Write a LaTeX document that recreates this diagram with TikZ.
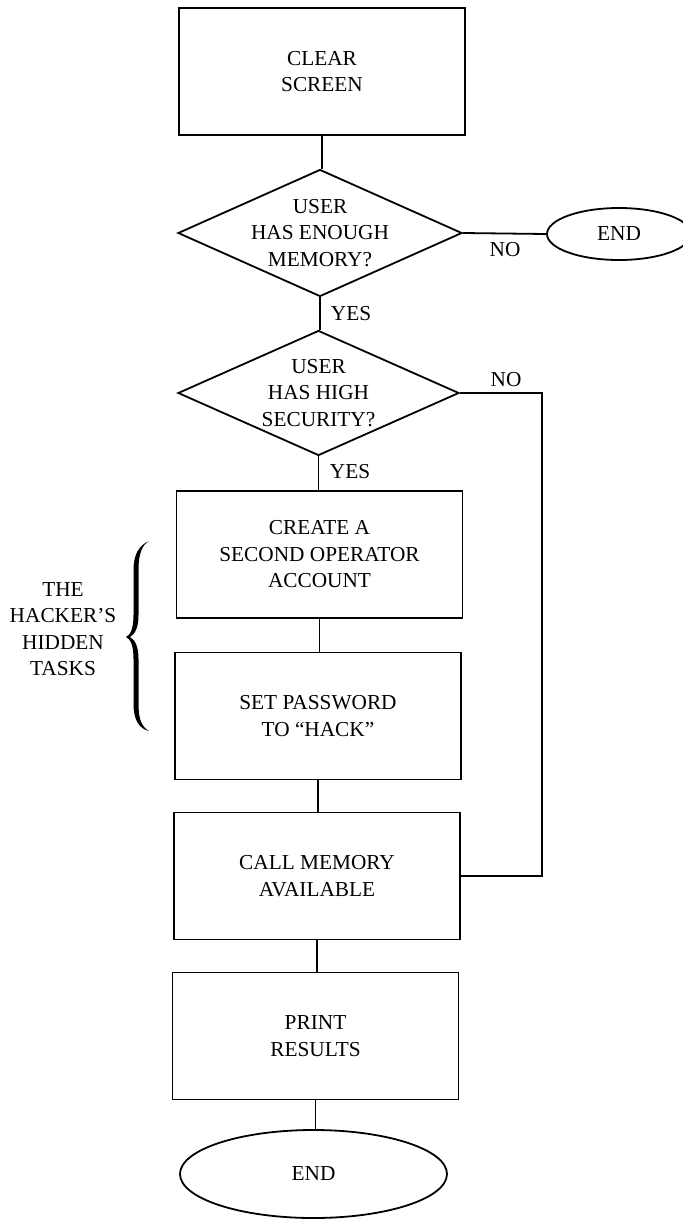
\documentclass[tikz,border=0pt]{standalone}
\usepackage{fontspec}
\setmainfont{Liberation Serif}
\usetikzlibrary{shapes.geometric}
\begin{document}
\begin{tikzpicture}[x=1pt,y=-1pt,line width=1.8pt,
  txt/.style={font=\fontsize{21.3}{26.5}\selectfont,align=center,inner sep=0pt},
  procbox/.style={draw,rectangle,minimum width=286pt,minimum height=127pt,inner sep=0pt,
    font=\fontsize{21.3}{26.5}\selectfont,align=center},
  decision/.style={draw,diamond,inner sep=0pt},
  terminal/.style={draw,ellipse,inner sep=0pt,font=\fontsize{21.3}{26.5}\selectfont},
  lbl/.style={font=\fontsize{21.3}{24}\selectfont,inner sep=0pt}]
\useasboundingbox (0,0) rectangle (683,1219);

% process boxes
\node[procbox] (b1) at (322,71.5) {CLEAR\\SCREEN};
\node[procbox] (b3) at (319.5,554.5) {CREATE A\\SECOND OPERATOR\\ACCOUNT};
\node[procbox] (b4) at (318,716) {SET PASSWORD\\TO ``HACK''};
\node[procbox] (b5) at (317,876) {CALL MEMORY\\AVAILABLE};
\node[procbox] (b6) at (315.5,1036) {PRINT\\RESULTS};

% decisions
\node[decision,minimum width=284pt,minimum height=127pt] (d1) at (320,233) {};
\node[txt] (d1t) at (d1.center) {USER\\HAS ENOUGH\\MEMORY?};
\node[decision,minimum width=281pt,minimum height=125pt] (d2) at (318.5,393) {};
\node[txt] (d2t) at (d2.center) {USER\\HAS HIGH\\SECURITY?};

% terminals
\node[terminal,minimum width=144pt,minimum height=52pt] (e1) at (619,234) {END};
\node[terminal,minimum width=267pt,minimum height=88pt] (e2) at (313.5,1174) {END};

% labels
\node[lbl] (no1) at (505,250) {NO};
\node[lbl] (yes1) at (351,314) {YES};
\node[lbl] (no2) at (506,380) {NO};
\node[lbl] (yes2) at (350,472) {YES};

% connectors
\draw (b1.south) -- (b1.south |- d1.north);
\draw (d1.south) -- (d1.south |- d2.north);
\draw (d2.south) -- (d2.south |- b3.north);
\draw (b3.south) -- (b3.south |- b4.north);
\draw (b4.south) -- (b4.south |- b5.north);
\draw (b5.south) -- (b5.south |- b6.north);
\draw (b6.south) -- (b6.south |- e2.north);
\draw (d1.east) -- (e1.west);
\coordinate (rt) at (542,0);
\draw (d2.east) -| (rt |- b5.east) -- (b5.east);

% brace and side text
\fill[black] (149,541)
  .. controls (140,545) and (133.5,553) .. (133.5,570) -- (133.5,615)
  .. controls (133.5,630) and (130,635) .. (126,637)
  .. controls (130,639) and (133.5,644) .. (133.5,659) -- (133.5,704)
  .. controls (133.5,721) and (140,729) .. (149,731)
  .. controls (142,727) and (138.5,720) .. (138.5,704) -- (138.5,659)
  .. controls (138.5,646) and (135,640) .. (130,637)
  .. controls (135,634) and (138.5,628) .. (138.5,615) -- (138.5,570)
  .. controls (138.5,554) and (142,545) .. (149,541) -- cycle;
\node[txt] (hidden) at (63,629) {THE\\HACKER’S\\HIDDEN\\TASKS};
\end{tikzpicture}
\end{document}
